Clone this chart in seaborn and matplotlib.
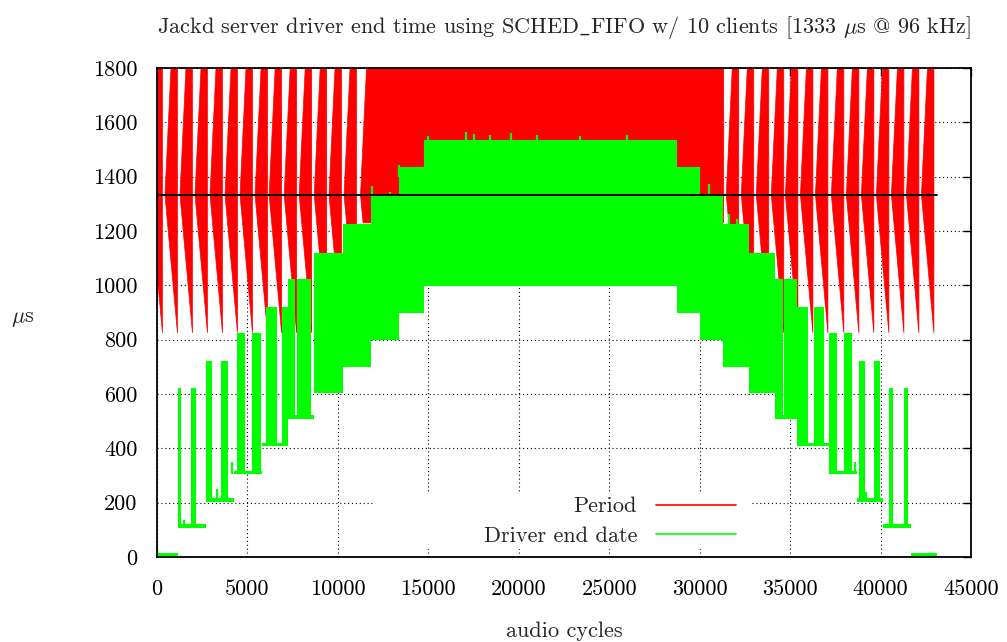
import numpy as np
import pandas as pd
import matplotlib
matplotlib.use("Agg")
import matplotlib.pyplot as plt
import seaborn as sns
from matplotlib.lines import Line2D
from matplotlib.patches import Rectangle

# ---------------- data ----------------
# Period (red): over-run ramps; each ramp starts on the 1333 us line and
# ends (tip) at the given audio cycle where the period reaches its extremes.
period_tip_left = [300, 1130, 1960, 2790, 3620, 4450, 5280, 6110, 6890,
                   7720, 8550, 9380, 10200, 11030]
period_tip_right = [32160, 32990, 33820, 34650, 35430, 36260, 37090,
                    37970, 38800, 39630, 40460, 41290, 42120, 42950]
period_ramp_len = 690
period_high = 2300
period_low = 825
period_saturated = [11250, 31330]   # continuous over-run region (start, end)
period_saturated_floor = 1230

# Nominal period line
nominal_x = [0, 43100]
nominal_y = [1333, 1333]

# Driver end date (green): plateau segments
seg_edges = [0, 1150, 2683, 4230, 5780, 7220, 8660, 10260, 11810, 13380,
             14740, 28760, 30030, 31280, 32720, 34150, 35590, 37140, 38690,
             40130, 41680, 43100]
seg_low = [3, 107, 204, 304, 408, 509, 603, 700, 800, 898, 997,
           898, 800, 700, 603, 509, 408, 304, 204, 107, 3]
seg_high = [13, 120, 217, 317, 420, 522, 1119, 1226, 1335, 1437, 1536,
            1436, 1335, 1226, 1119, 522, 420, 317, 217, 120, 13]

# Driver end date bursts (start, end, bottom, top)
burst_start = [1150, 1892, 2683, 3551, 4397, 5227, 6040, 6886, 7220, 7716,
               34150, 34680, 35390, 36310, 37140, 37970, 38800, 39630,
               40460, 41290]
burst_end = [1300, 2130, 3053, 3916, 4840, 5725, 6648, 7218, 7605, 8490,
             34620, 35370, 35970, 36890, 37580, 38440, 39130, 39960,
             40680, 41510]
burst_bottom = [107, 107, 204, 204, 304, 304, 408, 408, 509, 509,
                509, 509, 408, 408, 304, 304, 204, 204, 107, 107]
burst_top = [622, 622, 720, 720, 824, 824, 920, 920, 1022, 1022,
             1022, 1022, 920, 920, 824, 824, 720, 720, 622, 622]

# Isolated jitter peaks (x, bottom, top)
jitter_x = [0, 1500, 3300, 4170, 11900, 12900, 13400, 15000, 17100,
            17550, 18400, 19550, 21000, 23400, 26000, 30500, 31600, 32050,
            38580, 39200]
jitter_bottom = [3, 107, 204, 304, 1300, 1300, 1400, 1500, 1500,
                 1500, 1500, 1500, 1500, 1500, 1500, 1300, 1200, 1200,
                 304, 204]
jitter_top = [44, 136, 250, 350, 1365, 1345, 1442, 1548, 1564,
              1558, 1555, 1562, 1552, 1550, 1553, 1372, 1262, 1245,
              350, 240]

# axes
x_ticks = [0, 5000, 10000, 15000, 20000, 25000, 30000, 35000, 40000, 45000]
y_ticks = [0, 200, 400, 600, 800, 1000, 1200, 1400, 1600, 1800]

title = r"Jackd server driver end time using SCHED$\_$FIFO w/ 10 clients [1333 $\mu$s @ 96 kHz]"
xlabel = "audio cycles"
ylabel = r"$\mu$s"
legend_labels = ["Period", "Driver end date"]

RED = "#ff0000"
GREEN = "#00ff00"

# ---------------- styling ----------------
sns.set_style("white")
plt.rcParams["font.family"] = ["cmr10", "DejaVu Serif"]
plt.rcParams["mathtext.fontset"] = "cm"
plt.rcParams["axes.formatter.use_mathtext"] = True
FS = 16

fig = plt.figure(figsize=(10.07, 6.42), dpi=100)
ax = fig.add_axes([157 / 1007, 1 - 557 / 642, 814 / 1007, 489 / 642])

# ---------------- red: period ----------------
tips = np.array(period_tip_left + period_tip_right, dtype=float)
for t in tips:
    xs = [t - period_ramp_len, t, t]
    ys = [nominal_y[0], period_high, period_low]
    ax.fill(xs, ys, color=RED, lw=0.5, ec=RED, zorder=2)
s0, s1 = period_saturated
frac = (nominal_y[0] - period_saturated_floor) / (nominal_y[0] - period_low)
ax.fill([s0, s0 + period_ramp_len, s1, s1, s0 + frac * period_ramp_len],
        [nominal_y[0], period_high, period_high, period_saturated_floor,
         period_saturated_floor],
        color=RED, lw=0.5, ec=RED, zorder=2)

# ---------------- green: driver end date ----------------
edges = np.array(seg_edges, dtype=float)
lo = np.array(seg_low + [seg_low[-1]], dtype=float)
hi = np.array(seg_high + [seg_high[-1]], dtype=float)
ax.fill_between(edges, lo, hi, step="post", color=GREEN, lw=0, zorder=3)
bs = np.array(burst_start, float)
be = np.array(burst_end, float)
bb = np.array(burst_bottom, float)
bt = np.array(burst_top, float)
ax.bar(bs, bt - bb, width=be - bs, bottom=bb, align="edge",
       color=GREEN, lw=0, zorder=3)
jx = np.array(jitter_x, float)
ax.vlines(jx, jitter_bottom, jitter_top, color=GREEN, lw=1.6, zorder=3)

# nominal line
ref = pd.DataFrame({"x": nominal_x, "y": nominal_y})
sns.lineplot(data=ref, x="x", y="y", color="black", lw=1.4, ax=ax,
             legend=False, zorder=4)

# ---------------- axes ----------------
ax.set_xlim(0, 45000)
ax.set_ylim(0, 1800)
ax.set_xticks(x_ticks)
ax.set_yticks(y_ticks)
ax.set_xticklabels([str(v) for v in x_ticks])
ax.set_yticklabels([str(v) for v in y_ticks])
ax.tick_params(direction="in", length=6, width=1, top=True, right=True,
               labelsize=FS, colors="black")
ax.tick_params(axis="x", pad=16)
ax.tick_params(axis="y", pad=14)
ax.grid(True, color="black", linestyle=(0, (1, 2.5)), lw=0.8)
ax.set_axisbelow(True)
for sp in ax.spines.values():
    sp.set_color("black")
    sp.set_linewidth(1.3)
    sp.set_zorder(6)

ax.set_title(title, fontsize=FS, pad=25)
ax.set_xlabel(xlabel, fontsize=FS)
ax.xaxis.set_label_coords(0.5, -0.132)
ax.set_ylabel(ylabel, fontsize=FS, rotation=0, va="center", ha="center")
ax.yaxis.set_label_coords(-0.165, 0.487)

# key area (white box hiding the grid, as in the original)
ax.add_patch(Rectangle((0.268, 0.017), 0.463, 0.116, transform=ax.transAxes,
                       facecolor="white", edgecolor="none", zorder=1))
handles = [Line2D([0], [0], color=RED, lw=1.2),
           Line2D([0], [0], color=GREEN, lw=1.2)]
leg = ax.legend(handles, legend_labels, loc="center right",
                bbox_to_anchor=(0.736, 0.073), markerfirst=False,
                frameon=False, fontsize=FS, handlelength=3.6,
                handletextpad=0.85, labelspacing=0.45, borderpad=0.4)
leg.set_zorder(5)

fig.savefig("out.png", dpi=100)
